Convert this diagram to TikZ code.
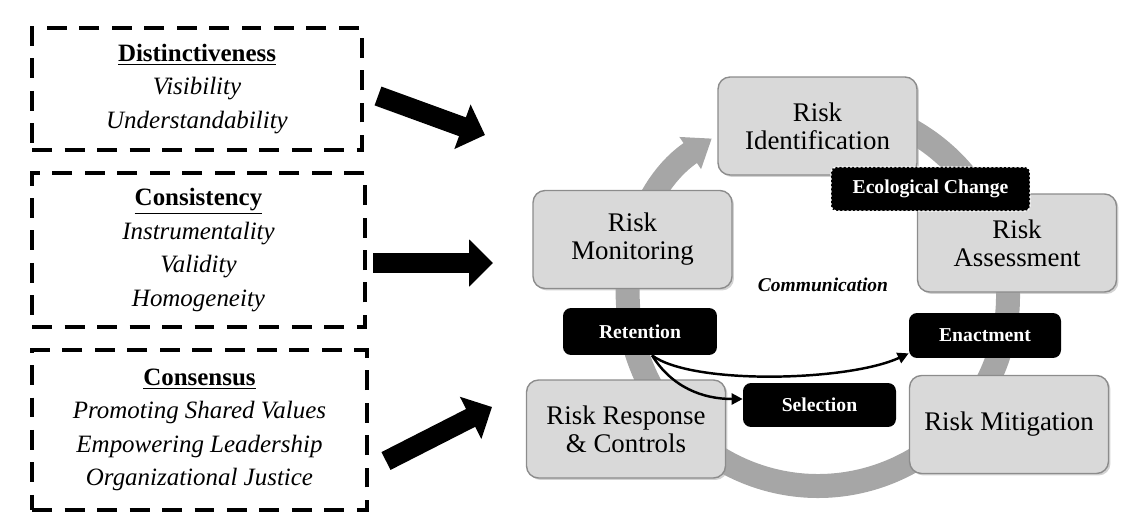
\documentclass[tikz,border=0pt]{standalone}
\usepackage{fontspec}
\setmainfont{Liberation Serif}
\usetikzlibrary{arrows.meta,shadows}

\definecolor{boxfill}{HTML}{D9D9D9}
\definecolor{boxline}{HTML}{8C8C8C}
\definecolor{ringgray}{HTML}{A6A6A6}

\tikzset{
  factor/.style={draw=black, line width=2.3pt, dash pattern=on 0.4cm off 0.25cm,
    align=center, inner sep=0pt, font=\fontsize{14.2}{19}\selectfont},
  fatarrow/.style={line width=0.4cm, -{Triangle[length=0.48cm,width=0.92cm]}},
  riskbox/.style={draw=boxline, line width=0.8pt, fill=boxfill, rounded corners=0.24cm,
    minimum width=3.98cm, minimum height=1.96cm, align=center, inner sep=0pt,
    font=\fontsize{15.3}{15.9}\selectfont,
    drop shadow={shadow xshift=0.04cm, shadow yshift=-0.04cm, fill=gray!70, opacity=0.5}},
  tag/.style={fill=black, text=white, rounded corners=0.16cm, inner sep=0pt,
    minimum height=0.9cm, font=\bfseries\fontsize{11.2}{13}\selectfont},
  ring/.style={draw=ringgray, line width=0.48cm},
  link/.style={draw=black, line width=1.4pt, -{Triangle[length=0.22cm,width=0.22cm]}}
}

\begin{document}
\begin{tikzpicture}[x=0.02cm, y=-0.02cm]
  \useasboundingbox (0,0) rectangle (1138,513);

  % left: the three factors
  \node[factor, minimum width=6.6cm, minimum height=2.44cm] (dist) at (197,89)
    {\underline{\textbf{Distinctiveness}}\\ \textit{Visibility}\\ \textit{Understandability}};
  \node[factor, minimum width=6.66cm, minimum height=3.08cm] (cons) at (198.5,250)
    {\underline{\textbf{Consistency}}\\ \textit{Instrumentality}\\ \textit{Validity}\\ \textit{Homogeneity}};
  \node[factor, minimum width=6.7cm, minimum height=3.2cm] (conse) at (199.5,430)
    {\underline{\textbf{Consensus}}\\ \textit{Promoting Shared Values}\\ \textit{Empowering Leadership}\\ \textit{Organizational Justice}};

  \coordinate (tail1) at (378,96);
  \coordinate (tip1) at (485,135);
  \coordinate (tail2) at (373,263);
  \coordinate (tip2) at (493,263);
  \coordinate (tail3) at (386,461);
  \coordinate (tip3) at (492,407);
  \draw[fatarrow] (tail1) -- (tip1);
  \draw[fatarrow] (tail2) -- (tip2);
  \draw[fatarrow] (tail3) -- (tip3);

  % right: the cycle
  \coordinate (hub) at (818,296);
  \draw[ring, -{Triangle[length=0.52cm,width=0.74cm]}]
    (hub) ++(110:3.8cm) arc[start angle=110, end angle=-236, radius=3.8cm];

  \node[riskbox] (ident) at (817.5,126) {Risk\\Identification};
  \node[riskbox] (monit) at (632.5,239.5) {Risk\\Monitoring};
  \node[riskbox] (assess) at (1017,243) {Risk\\Assessment};
  \node[riskbox] (resp) at (626,429) {Risk Response\\\& Controls};
  \node[riskbox] (mitig) at (1009,424.5) {Risk Mitigation};

  \node[tag, minimum width=3.98cm, minimum height=0.88cm, draw=white, line width=0.8pt,
    dash pattern=on 1.2pt off 1.2pt, rounded corners=0.1cm] (ecol) at (930.5,189) {Ecological Change};
  \node[tag, minimum width=3.08cm, minimum height=0.94cm] (reten) at (640,331.5) {Retention};
  \node[tag, minimum width=3.04cm] (enact) at (985,335.5) {Enactment};
  \node[tag, minimum width=3.06cm, minimum height=0.88cm] (selec) at (819.5,405) {Selection};

  \node[font=\bfseries\itshape\fontsize{11.1}{13}\selectfont] (comm) at (823,285) {Communication};

  \draw[link] ([xshift=0.24cm]reten.south) .. controls +(40,30) and +(-60,28) .. ([yshift=0.1cm]enact.south west);
  \draw[link] ([xshift=0.24cm]reten.south) .. controls +(20,32) and +(-40,0) .. ([yshift=0.12cm]selec.west);
\end{tikzpicture}
\end{document}
